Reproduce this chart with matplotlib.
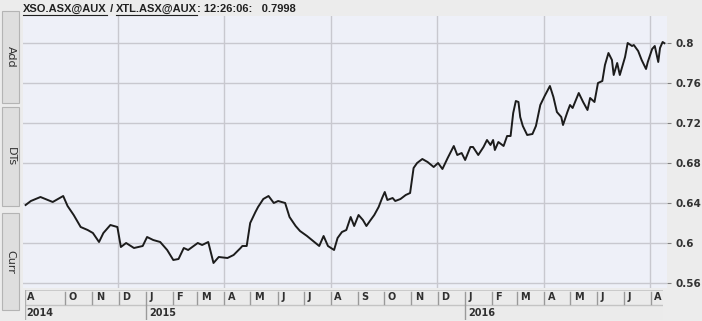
import matplotlib
matplotlib.use("Agg")
import matplotlib.pyplot as plt
import matplotlib.dates as mdates
from matplotlib.patches import Rectangle
from matplotlib.lines import Line2D
import numpy as np
import datetime as dt

# ---------------- data ----------------
dates = [
    "2014-08-17", "2014-08-23", "2014-09-03", "2014-09-17", "2014-09-29", "2014-10-04",
    "2014-10-11", "2014-10-19", "2014-10-27", "2014-11-02", "2014-11-09", "2014-11-14",
    "2014-11-22", "2014-11-30", "2014-12-04", "2014-12-10", "2014-12-19", "2014-12-29",
    "2015-01-03", "2015-01-10", "2015-01-18", "2015-01-26", "2015-02-02", "2015-02-08",
    "2015-02-14", "2015-02-19", "2015-03-02", "2015-03-07", "2015-03-14", "2015-03-20",
    "2015-03-26", "2015-04-05", "2015-04-12", "2015-04-20", "2015-04-22", "2015-04-27",
    "2015-05-01", "2015-05-07", "2015-05-10", "2015-05-16", "2015-05-22", "2015-05-28",
    "2015-06-02", "2015-06-10", "2015-06-15", "2015-06-22", "2015-06-27", "2015-07-05",
    "2015-07-12", "2015-07-19", "2015-07-24", "2015-07-29", "2015-08-05", "2015-08-09",
    "2015-08-14", "2015-08-19", "2015-08-24", "2015-08-28", "2015-09-02", "2015-09-07",
    "2015-09-11", "2015-09-15", "2015-09-20", "2015-09-25", "2015-09-29", "2015-10-02",
    "2015-10-05", "2015-10-11", "2015-10-14", "2015-10-20", "2015-10-26", "2015-10-31",
    "2015-11-04", "2015-11-08", "2015-11-14", "2015-11-20", "2015-11-27", "2015-12-02",
    "2015-12-07", "2015-12-13", "2015-12-20", "2015-12-24", "2015-12-29", "2016-01-02",
    "2016-01-08", "2016-01-11", "2016-01-17", "2016-01-23", "2016-01-27", "2016-01-31",
    "2016-02-03", "2016-02-05", "2016-02-09", "2016-02-15", "2016-02-19", "2016-02-23",
    "2016-02-26", "2016-02-29", "2016-03-03", "2016-03-05", "2016-03-08", "2016-03-13",
    "2016-03-19", "2016-03-23", "2016-03-28", "2016-04-02", "2016-04-08", "2016-04-12",
    "2016-04-16", "2016-04-21", "2016-04-23", "2016-04-28", "2016-05-01", "2016-05-04",
    "2016-05-11", "2016-05-16", "2016-05-21", "2016-05-24", "2016-05-29", "2016-06-02",
    "2016-06-07", "2016-06-10", "2016-06-14", "2016-06-18", "2016-06-20", "2016-06-24",
    "2016-06-27", "2016-07-01", "2016-07-03", "2016-07-06", "2016-07-11", "2016-07-13",
    "2016-07-18", "2016-07-22", "2016-07-27", "2016-07-29", "2016-08-03", "2016-08-06",
    "2016-08-10", "2016-08-12", "2016-08-15", "2016-08-17",
]
ratio = [
    0.638, 0.642, 0.646, 0.641, 0.647, 0.637,
    0.628, 0.616, 0.613, 0.610, 0.601, 0.610,
    0.618, 0.616, 0.596, 0.600, 0.595, 0.597,
    0.606, 0.603, 0.601, 0.593, 0.583, 0.584,
    0.595, 0.593, 0.600, 0.598, 0.601, 0.580,
    0.586, 0.585, 0.588, 0.595, 0.597, 0.597,
    0.620, 0.631, 0.636, 0.644, 0.647, 0.640,
    0.642, 0.640, 0.626, 0.617, 0.612, 0.607,
    0.602, 0.597, 0.607, 0.597, 0.593, 0.605,
    0.611, 0.613, 0.626, 0.617, 0.628, 0.623,
    0.617, 0.622, 0.628, 0.636, 0.645, 0.651,
    0.643, 0.645, 0.642, 0.644, 0.648, 0.650,
    0.675, 0.680, 0.684, 0.681, 0.676, 0.680,
    0.674, 0.685, 0.697, 0.688, 0.690, 0.683,
    0.696, 0.696, 0.688, 0.696, 0.703, 0.698,
    0.703, 0.693, 0.701, 0.697, 0.707, 0.707,
    0.730, 0.742, 0.741, 0.726, 0.717, 0.708,
    0.709, 0.717, 0.738, 0.747, 0.757, 0.746,
    0.731, 0.726, 0.718, 0.731, 0.738, 0.735,
    0.750, 0.741, 0.733, 0.745, 0.741, 0.760,
    0.762, 0.778, 0.790, 0.783, 0.768, 0.780,
    0.768, 0.780, 0.786, 0.800, 0.797, 0.798,
    0.792, 0.783, 0.774, 0.781, 0.794, 0.797,
    0.781, 0.795, 0.801, 0.7998,
]
y_ticks = [0.56, 0.6, 0.64, 0.68, 0.72, 0.76, 0.8]
y_tick_labels = ["0.56", "0.6", "0.64", "0.68", "0.72", "0.76", "0.8"]
month_labels = ["O", "N", "D", "J", "F", "M", "A", "M", "J", "J", "A", "S",
                "O", "N", "D", "J", "F", "M", "A", "M", "J", "J", "A"]
first_month_label = "A"
year_labels = ["2014", "2015", "2016"]
title_parts = ["XSO.ASX@AUX", " / ", "XTL.ASX@AUX", ": 12:26:06:   0.7998"]
buttons = ["Add", "DTs", "Curr"]

# ---------------- figure ----------------
W, H = 702, 321
fig = plt.figure(figsize=(W / 100, H / 100), dpi=100)
fig.patch.set_facecolor("#ececec")

def fx(px):
    return px / W

def fy(py):
    return 1 - py / H

x = [dt.datetime.strptime(d, "%Y-%m-%d") for d in dates]
xmin = dt.datetime(2014, 8, 14)
xmax = dt.datetime(2016, 8, 20)

# main plot
ax = fig.add_axes([fx(23), fy(288), fx(667) - fx(23), fy(16) - fy(288)])
ax.set_facecolor("#eef0f8")
ax.plot(x, ratio, color="#1c1c1c", lw=1.4, solid_joinstyle="round")
ax.set_xlim(xmin, xmax)
ax.set_ylim(0.555, 0.827)
ax.set_yticks(y_ticks)
ax.set_yticklabels(y_tick_labels)
ax.yaxis.tick_right()
ax.tick_params(axis="y", length=3, width=0.8, color="#808080", pad=3,
               labelsize=7.5, labelcolor="#333333")
for lab in ax.get_yticklabels():
    lab.set_fontweight("bold")
ax.xaxis.set_major_locator(mdates.MonthLocator(bymonth=[4, 8, 12]))
ax.tick_params(axis="x", length=0, labelbottom=False)
ax.grid(True, color="#c8c8cf", lw=1.0)
ax.set_axisbelow(True)
for s in ax.spines.values():
    s.set_visible(False)

# date strip
sx = fig.add_axes([fx(25), fy(320), fx(663) - fx(25), fy(290) - fy(320)])
sx.set_xlim(dt.datetime(2014, 8, 16), dt.datetime(2016, 8, 15))
sx.set_ylim(0, 2)
sx.set_facecolor("#ebebeb")
for s in sx.spines.values():
    s.set_visible(False)
sx.set_xticks([])
sx.set_yticks([])
sx.axhline(2, color="#c4c4c4", lw=1.2)
sx.axhline(1.02, color="#c4c4c4", lw=1.0)
sx.axvline(dt.datetime(2014, 8, 16), color="#b0b0b0", lw=1.0)

lab_kw = dict(fontsize=7, fontweight="bold", color="#303030", va="center", ha="left")
sx.text(dt.datetime(2014, 8, 18), 1.5, first_month_label, **lab_kw)
month_starts = []
yy, mm = 2014, 10
for _ in month_labels:
    month_starts.append(dt.datetime(yy, mm, 1))
    mm += 1
    if mm > 12:
        mm = 1
        yy += 1
for d0, lab in zip(month_starts, month_labels):
    sx.plot([d0, d0], [1.1, 1.9], color="#9a9a9a", lw=1.0)
    sx.text(d0 + dt.timedelta(days=4), 1.5, lab, **lab_kw)

sx.text(dt.datetime(2014, 8, 18), 0.5, year_labels[0], **lab_kw)
for yr, lab in zip([2015, 2016], year_labels[1:]):
    d0 = dt.datetime(yr, 1, 1)
    sx.plot([d0, d0], [0.0, 1.0], color="#9a9a9a", lw=1.0)
    sx.text(d0 + dt.timedelta(days=4), 0.5, lab, **lab_kw)

# left buttons
btn_spans = [(11, 103), (107, 206), (213, 310)]
for (y0, y1), lab in zip(btn_spans, buttons):
    r = Rectangle((fx(2), fy(y1)), fx(19) - fx(2), fy(y0) - fy(y1),
                  transform=fig.transFigure, facecolor="#dedede",
                  edgecolor="#b4b4b4", lw=0.8)
    fig.patches.append(r)
    fig.text(fx(10.5), fy((y0 + y1) / 2), lab, rotation=270, ha="center",
             va="center", fontsize=8, color="#303030")

# title with underlined parts
fig.canvas.draw()
renderer = fig.canvas.get_renderer()
cur = fx(23)
ty = fy(9)
for i, part in enumerate(title_parts):
    t = fig.text(cur, ty, part, fontsize=8, fontweight="bold",
                 family=["Liberation Sans", "DejaVu Sans"],
                 color="#202020", ha="left", va="center")
    bb = t.get_window_extent(renderer).transformed(fig.transFigure.inverted())
    if i in (0, 2):
        fig.lines.append(Line2D([bb.x0, bb.x1], [fy(15), fy(15)],
                                transform=fig.transFigure, color="#202020", lw=0.8))
    cur = bb.x1

fig.savefig("out.png", dpi=100, facecolor=fig.get_facecolor())
